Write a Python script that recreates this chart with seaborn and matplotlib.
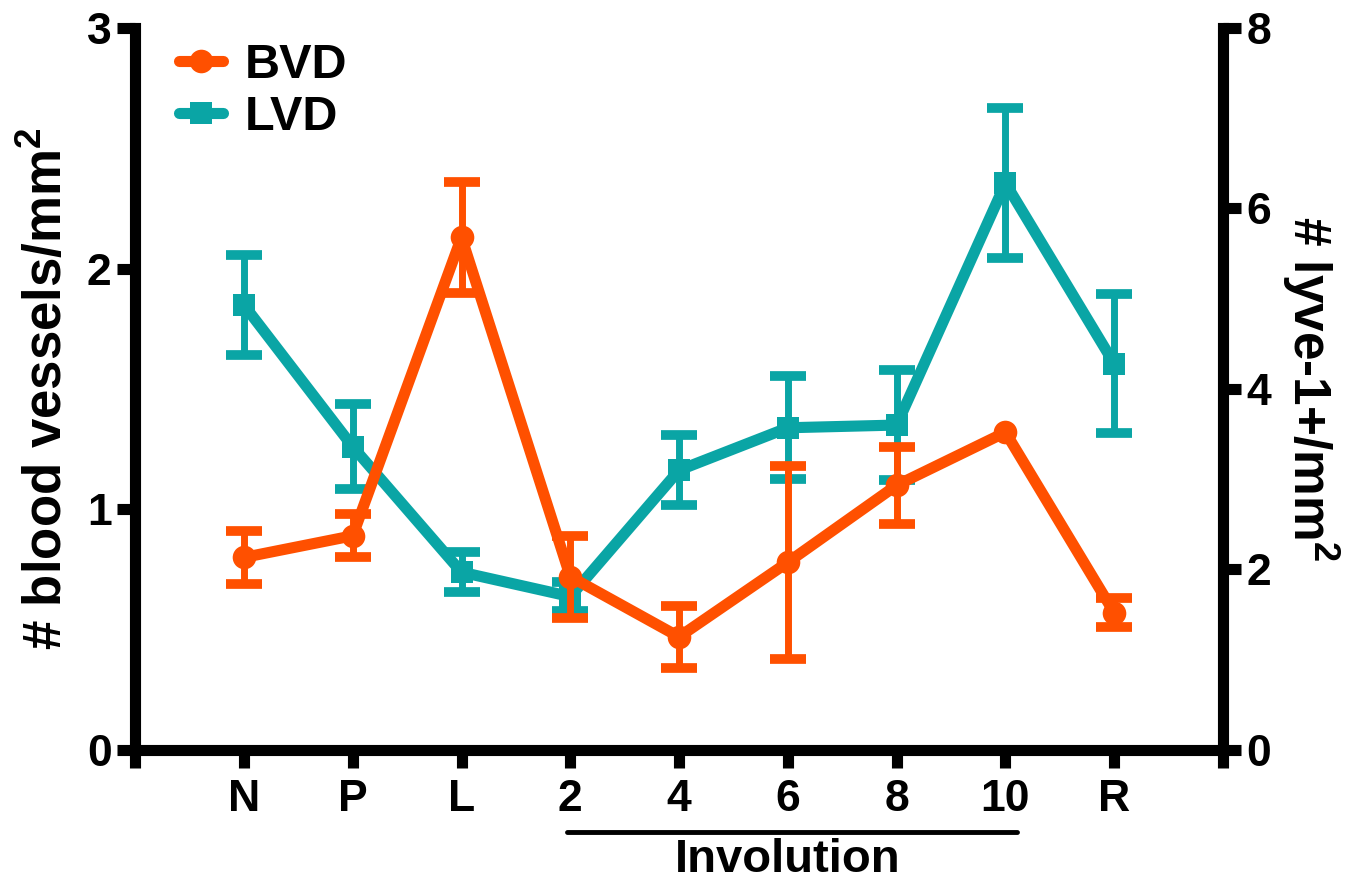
"""
BVD / LVD density across mammary stages, two y axes.
"""
import matplotlib
matplotlib.use('Agg')
import matplotlib.pyplot as plt
import matplotlib.transforms as mtransforms
from matplotlib.lines import Line2D
import numpy as np
import seaborn as sns

sns.set_style('ticks')
plt.rcParams['font.family'] = ['Liberation Sans', 'DejaVu Sans']
plt.rcParams['font.weight'] = 'bold'
plt.rcParams['mathtext.fontset'] = 'custom'
plt.rcParams['mathtext.rm'] = 'Liberation Sans:bold'
plt.rcParams['mathtext.it'] = 'Liberation Sans:bold'
plt.rcParams['mathtext.bf'] = 'Liberation Sans:bold'
plt.rcParams['text.color'] = 'black'
plt.rcParams['axes.labelcolor'] = 'black'
plt.rcParams['axes.edgecolor'] = 'black'
plt.rcParams['xtick.color'] = 'black'
plt.rcParams['ytick.color'] = 'black'

# data
categories = ['N', 'P', 'L', '2', '4', '6', '8', '10', 'R']
bvd_mean = [0.80, 0.89, 2.13, 0.72, 0.47, 0.78, 1.10, 1.32, 0.57]
bvd_sem = [0.11, 0.09, 0.23, 0.17, 0.13, 0.40, 0.16, 0.0, 0.06]
lvd_mean = [4.93, 3.36, 1.97, 1.70, 3.10, 3.57, 3.60, 6.28, 4.28]
lvd_sem = [0.55, 0.47, 0.22, 0.16, 0.39, 0.57, 0.61, 0.83, 0.77]
left_ticks = [0, 1, 2, 3]
right_ticks = [0, 2, 4, 6, 8]

ORANGE = '#FF5000'
TEAL = '#0AA5A5'
LW = 8
SPINE_W = 8

x = np.arange(len(categories))

fig = plt.figure(figsize=(13.65, 8.86), dpi=100)
ax = fig.add_axes([0.099, 0.1535, 0.797, 0.815])
ax2 = ax.twinx()
ax.set_zorder(ax2.get_zorder() + 1)
ax.patch.set_visible(False)


def draw_series(axis, mean, sem, color, marker, msize):
    sns.lineplot(x=x, y=mean, ax=axis, color=color, linewidth=LW,
                 marker=marker, markersize=msize, markeredgewidth=0,
                 legend=False)
    keep = [i for i, s in enumerate(sem) if s > 0]
    axis.errorbar(x[keep], np.array(mean)[keep], yerr=np.array(sem)[keep],
                  fmt='none', ecolor=color, elinewidth=5, capsize=13,
                  capthick=7)


draw_series(ax2, lvd_mean, lvd_sem, TEAL, 's', 16)
draw_series(ax, bvd_mean, bvd_sem, ORANGE, 'o', 17)

# axes limits / ticks
ax.set_xlim(-1, 9)
ax.set_xticks(np.arange(-1, 10))
ax.set_xticklabels([''] + categories + [''])
ax.set_ylim(0, 3)
ax.set_yticks(left_ticks)
ax2.set_ylim(0, 8)
ax2.set_yticks(right_ticks)

for a in (ax, ax2):
    a.spines['top'].set_visible(False)
    for sp in a.spines.values():
        sp.set_linewidth(SPINE_W)
        sp.set_color('black')
    a.tick_params(width=SPINE_W, length=13, labelsize=32, pad=4,
                  colors='black')
ax.spines['right'].set_visible(False)
ax2.spines['left'].set_visible(False)
ax2.spines['bottom'].set_visible(False)
ax.tick_params(axis='x', pad=8)

ax.set_ylabel('# blood vessels/mm$^2$', fontsize=38, fontweight='bold',
              labelpad=10, color='black')
ax2.set_ylabel('# lyve-1+/mm$^2$', fontsize=37, fontweight='bold',
               rotation=270, labelpad=50, color='black')
ax.set_xlabel('')

# Involution bracket under the x axis
trans = mtransforms.blended_transform_factory(ax.transData, ax.transAxes)
ax.add_line(Line2D([2.97, 7.11], [-0.113, -0.113], transform=trans,
                   color='black', linewidth=3.5, clip_on=False))
ax.text(5.0, -0.122, 'Involution', transform=trans, ha='center', va='top',
        fontsize=34, fontweight='bold', color='black')

handles = [
    Line2D([], [], color=ORANGE, linewidth=LW, marker='o', markersize=17,
           markeredgewidth=0),
    Line2D([], [], color=TEAL, linewidth=LW, marker='s', markersize=16,
           markeredgewidth=0),
]
ax.legend(handles, ['BVD', 'LVD'], loc='upper left',
          bbox_to_anchor=(0.0, 1.04), frameon=False,
          prop={'size': 35, 'weight': 'bold'}, handlelength=0.9,
          handletextpad=0.45, labelspacing=0.15, labelcolor='black')

fig.savefig('out.png', dpi=100)
plt.close()
